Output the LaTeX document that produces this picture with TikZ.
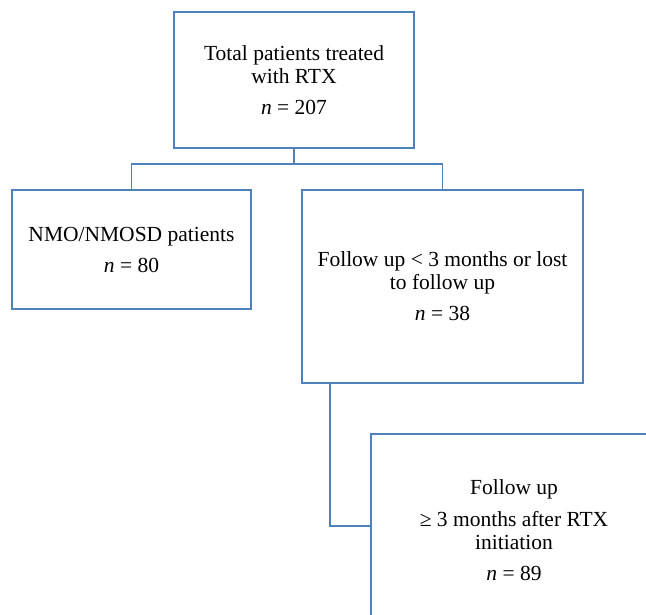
\documentclass[tikz,border=0pt]{standalone}
\usepackage{fontspec}
\setmainfont{Liberation Serif}
\definecolor{boxblue}{RGB}{79,129,189}
\tikzset{box/.style={rectangle, draw=boxblue, line width=1.1pt, align=center, inner sep=0pt,
		font=\fontsize{21.5}{23}\selectfont},
	conn/.style={draw=boxblue, line width=1.1pt}}

\begin{document}
\begin{tikzpicture}[x=1pt, y=1pt]
			\useasboundingbox (0,0) rectangle (646,614);
			\clip (0,0) rectangle (646,614);
			
			% Boxes
			\node[box, minimum width=240pt, minimum height=136pt] (total) at (294,534) {Total patients treated\\with RTX\\[8pt]\textit{n} = 207};
			\node[box, minimum width=239pt, minimum height=119pt] (nmo) at (131.5,364.5) {NMO/NMOSD patients\\[8pt]\textit{n} = 80};
			\node[box, minimum width=281pt, minimum height=193pt] (lost) at (442.5,327.5) {Follow up {\textless} 3 months or lost\\to follow up\\[8pt]\textit{n} = 38};
			\node[box, minimum width=286pt, minimum height=193pt] (follow) at (514,83.5) {Follow up\\[9pt]≥ 3 months after RTX\\initiation\\[8pt]\textit{n} = 89};
			
			% Branch points
			\coordinate (split) at (294,450);
			\coordinate (bend) at (330,88);
			
			% Connectors
			\draw[conn] (total.south) -- (split);
			\draw[conn] (split) -| (nmo.north);
			\draw[conn] (split) -| (lost.north);
			\draw[conn] (lost.south -| bend) -- (bend) -- (bend -| follow.west);
		\end{tikzpicture}
\end{document}
